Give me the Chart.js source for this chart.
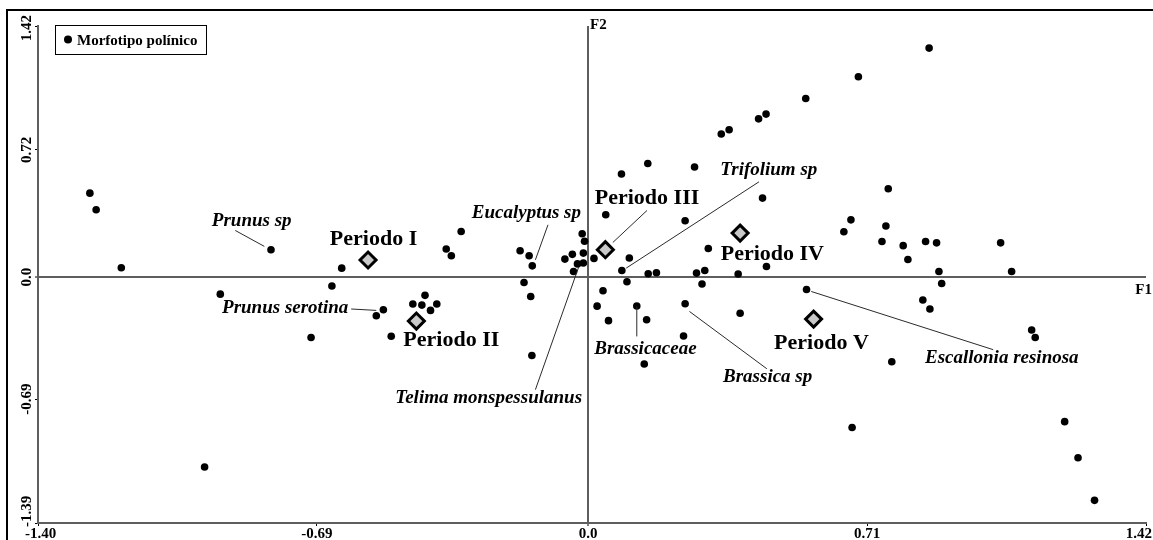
<!DOCTYPE html>
<html>
<head>
<meta charset="utf-8">
<script src="https://cdn.jsdelivr.net/npm/chart.js@4.4.1/dist/chart.umd.min.js"></script>
<style>
html,body{margin:0;padding:0;background:#fff;overflow:hidden;}
#wrap{width:1153px;height:540px;position:relative;}
</style>
</head>
<body>
<div id="wrap"><canvas id="c"></canvas></div>
<script>
// ---------------- data ----------------
const morfoX = [-1.268,-1.252,-1.188,-0.976,-0.936,-0.807,-0.705,-0.652,-0.627,-0.539,
  -0.521,-0.501,-0.446,-0.415,-0.423,-0.385,-0.401,-0.361,-0.348,-0.323,
  -0.173,-0.150,-0.142,-0.163,-0.146,-0.143,-0.015,-0.009,-0.040,-0.012,
  -0.059,0.015,-0.027,-0.012,-0.037,0.023,0.038,0.045,0.052,0.085,
  0.152,0.271,0.086,0.105,0.099,0.124,0.149,0.143,0.153,0.174,
  0.247,0.247,0.243,0.276,0.297,0.290,0.306,0.339,0.359,0.382,
  0.387,0.434,0.453,0.444,0.454,0.554,0.556,0.651,0.669,0.672,
  0.688,0.748,0.758,0.764,0.773,0.802,0.814,0.859,0.887,0.868,
  0.893,0.900,0.852,0.870,1.050,1.078,1.129,1.138,1.213,1.247,1.289];
const morfoY = [0.475,0.381,0.053,-1.073,-0.096,0.155,-0.341,-0.050,0.051,-0.218,
  -0.184,-0.334,-0.152,-0.103,-0.158,-0.152,-0.188,0.159,0.121,0.258,
  0.149,0.121,0.064,-0.030,-0.109,-0.443,0.245,0.203,0.129,0.136,
  0.102,0.106,0.075,0.080,0.032,-0.164,-0.077,0.353,-0.246,0.583,
  0.643,0.623,0.038,0.108,-0.026,-0.163,-0.241,-0.491,0.019,0.025,
  0.319,-0.150,-0.333,0.023,0.038,-0.039,0.162,0.809,0.833,0.018,
  -0.204,0.895,0.922,0.447,0.060,1.010,-0.070,0.257,0.324,-0.850,
  1.133,0.202,0.289,0.500,-0.478,0.178,0.100,0.202,0.194,1.295,
  0.032,-0.036,-0.129,-0.180,0.194,0.032,-0.299,-0.341,-0.817,-1.021,-1.262];

const periodoNames = ['Periodo I','Periodo II','Periodo III','Periodo IV','Periodo V'];
const periodoX = [-0.560,-0.437,0.044,0.387,0.574];
const periodoY = [0.097,-0.248,0.155,0.249,-0.237];

const xTickValues = [-1.40,-0.69,0.0,0.71,1.42];
const xTickLabels = ['-1.40','-0.69','0.0','0.71','1.42'];
const yTickValues = [-1.39,-0.69,0.0,0.72,1.42];
const yTickLabels = ['-1.39','-0.69','0.0','0.72','1.42'];

const xAxisTitle = 'F1';
const yAxisTitle = 'F2';
const legendLabel = 'Morfotipo polínico';

const speciesNames = ['Prunus sp','Prunus serotina','Eucalyptus sp','Trifolium sp',
  'Brassicaceae','Brassica sp','Escallonia resinosa','Telima monspessulanus'];

// ---------------- annotation layout (data units) ----------------
const speciesLayout = [
  {x:-0.856, y:0.287,  line:[-0.898,0.264,-0.824,0.174]},
  {x:-0.771, y:-0.203, line:[-0.603,-0.180,-0.539,-0.188]},
  {x:-0.157, y:0.334,  line:[-0.102,0.296,-0.134,0.098]},
  {x:0.460,  y:0.579,  line:[0.435,0.539,0.097,0.051]},
  {x:0.146,  y:-0.433, line:[0.124,-0.166,0.124,-0.335]},
  {x:0.457,  y:-0.590, line:[0.258,-0.194,0.455,-0.518]},
  {x:1.053,  y:-0.486, line:[0.568,-0.081,1.031,-0.410]},
  {x:-0.253, y:-0.712, line:[-0.024,0.057,-0.134,-0.636]}
];
const periodoLayout = [
  {x:-0.546, y:0.183},
  {x:-0.348, y:-0.392},
  {x:0.150,  y:0.415, line:[0.150,0.377,0.063,0.196]},
  {x:0.469,  y:0.098},
  {x:0.594,  y:-0.405}
];

const FONT = "'Liberation Serif', 'Times New Roman', serif";
const AXIS_GRAY = '#5e5e5e';

const annotPlugin = {
  id: 'annot',
  afterDatasetsDraw(chart) {
    const ctx = chart.ctx;
    const xs = chart.scales.x, ys = chart.scales.y;
    const px = v => xs.getPixelForValue(v);
    const py = v => ys.getPixelForValue(v);
    ctx.save();
    ctx.strokeStyle = '#2a2a2a';
    ctx.lineWidth = 1;
    const lines = speciesLayout.map(s => s.line).concat(periodoLayout.filter(p => p.line).map(p => p.line));
    lines.forEach(l => {
      ctx.beginPath();
      ctx.moveTo(px(l[0]), py(l[1]));
      ctx.lineTo(px(l[2]), py(l[3]));
      ctx.stroke();
    });
    ctx.fillStyle = '#000';
    ctx.textAlign = 'center';
    ctx.textBaseline = 'alphabetic';
    ctx.font = "italic bold 19px " + FONT;
    speciesNames.forEach((n, i) => {
      ctx.fillText(n, px(speciesLayout[i].x), py(speciesLayout[i].y));
    });
    ctx.font = "bold 22px " + FONT;
    periodoNames.forEach((n, i) => {
      ctx.fillText(n, px(periodoLayout[i].x), py(periodoLayout[i].y));
    });
    ctx.restore();
  },
  afterDraw(chart) {
    const ctx = chart.ctx;
    const xs = chart.scales.x, ys = chart.scales.y;
    ctx.save();
    ctx.fillStyle = '#000';
    ctx.font = "bold 15px " + FONT;
    ctx.textAlign = 'center';
    ctx.textBaseline = 'alphabetic';
    xTickValues.forEach((v, i) => {
      const w = ctx.measureText(xTickLabels[i]).width;
      let cx = xs.getPixelForValue(v);
      cx = Math.max(25 + w / 2, Math.min(1152 - w / 2, cx));
      ctx.fillText(xTickLabels[i], cx, 538);
    });
    yTickValues.forEach((v, i) => {
      const w = ctx.measureText(yTickLabels[i]).width;
      let cy = ys.getPixelForValue(v);
      cy = Math.max(15 + w / 2, Math.min(527 - w / 2, cy));
      ctx.save();
      ctx.translate(31, cy);
      ctx.rotate(-Math.PI / 2);
      ctx.fillText(yTickLabels[i], 0, 0);
      ctx.restore();
    });
    ctx.textAlign = 'left';
    ctx.fillText(yAxisTitle, xs.getPixelForValue(0) + 2, 28.5);
    ctx.textAlign = 'right';
    ctx.fillText(xAxisTitle, 1152, 293.5);
    const ds = chart.data.datasets[1];
    ctx.strokeStyle = '#000';
    ctx.lineWidth = 1;
    ctx.strokeRect(55.5, 25.5, 151, 29);
    ctx.beginPath();
    ctx.arc(68, 39.5, 4, 0, Math.PI * 2);
    ctx.fillStyle = ds.pointBackgroundColor;
    ctx.fill();
    ctx.fillStyle = '#000';
    ctx.textAlign = 'left';
    ctx.fillText(ds.label, 77, 44.5);
    ctx.strokeStyle = '#000';
    ctx.lineWidth = 2;
    ctx.beginPath();
    ctx.moveTo(1153, 10);
    ctx.lineTo(7, 10);
    ctx.lineTo(7, 540);
    ctx.stroke();
    ctx.restore();
  }
};

const zeroGrid = {
  display: true,
  drawOnChartArea: true,
  drawTicks: true,
  tickLength: 3,
  tickColor: '#000',
  tickWidth: 1,
  color: c => (c.tick && Math.abs(c.tick.value) < 1e-9) ? AXIS_GRAY : 'rgba(0,0,0,0)',
  lineWidth: c => (c.tick && Math.abs(c.tick.value) < 1e-9) ? 2 : 1
};

function clearPad(s) { s.paddingLeft = 0; s.paddingRight = 0; s.paddingTop = 0; s.paddingBottom = 0; }

new Chart(document.getElementById('c'), {
  type: 'scatter',
  data: {
    datasets: [
      {
        label: 'Periodo',
        data: periodoX.map((x, i) => ({x: x, y: periodoY[i]})),
        pointStyle: 'rectRot',
        pointRadius: 8,
        pointBorderWidth: 3,
        pointBorderColor: '#000',
        pointBackgroundColor: '#c9c9c9'
      },
      {
        label: legendLabel,
        data: morfoX.map((x, i) => ({x: x, y: morfoY[i]})),
        pointStyle: 'circle',
        pointRadius: 3.8,
        pointBorderWidth: 0,
        pointBackgroundColor: '#000'
      }
    ]
  },
  options: {
    responsive: true,
    maintainAspectRatio: false,
    devicePixelRatio: 1,
    animation: false,
    layout: { autoPadding: false, padding: { left: 0, top: 26, right: 7, bottom: 0 } },
    plugins: { legend: { display: false }, tooltip: { enabled: false } },
    scales: {
      x: {
        type: 'linear', position: 'bottom', min: -1.40, max: 1.42,
        afterBuildTicks: s => { s.ticks = xTickValues.map(v => ({value: v})); },
        afterFit: s => { s.height = 17; clearPad(s); },
        ticks: { display: false, callback: (v, i) => xTickLabels[i] },
        grid: zeroGrid,
        border: { display: true, color: AXIS_GRAY, width: 2 }
      },
      y: {
        type: 'linear', position: 'left', min: -1.39, max: 1.42,
        afterBuildTicks: s => { s.ticks = yTickValues.map(v => ({value: v})); },
        afterFit: s => { s.width = 38; clearPad(s); },
        ticks: { display: false, callback: (v, i) => yTickLabels[i] },
        grid: zeroGrid,
        border: { display: true, color: AXIS_GRAY, width: 2 }
      }
    }
  },
  plugins: [annotPlugin]
});
</script>
</body>
</html>
